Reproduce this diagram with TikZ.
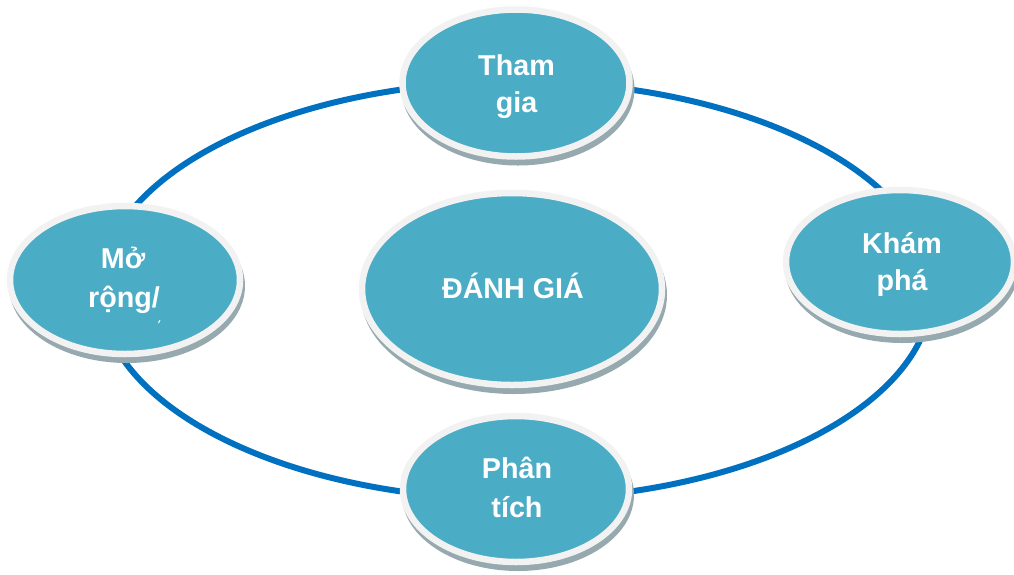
\documentclass[tikz,border=0pt]{standalone}
\usepackage{fontspec}
\setmainfont{Liberation Sans}
\usetikzlibrary{shapes.geometric}
\definecolor{ringc}{HTML}{0070C0}
\definecolor{nodefill}{HTML}{4BACC6}
\definecolor{rimc}{HTML}{F2F2F2}
\definecolor{shadc}{HTML}{95A9AF}
\begin{document}
\begin{tikzpicture}[x=1pt,y=-1pt,
  ringline/.style={draw=ringc, line width=6pt},
  bubble/.style={ellipse, fill=nodefill, draw=rimc, line width=6.5pt, inner sep=0pt},
  shadowfill/.style={fill=shadc},
  txt/.style={text=white, font=\fontsize{28.7}{34}\selectfont\bfseries, inner sep=0pt, anchor=base},
  ]
\useasboundingbox (0,0) rectangle (1014,574);
\clip (0,0) rectangle (1014,574);

% ring
\draw[ringline] (516,290.5) ellipse [x radius=416, y radius=209];

% shadows
\fill[shadowfill] (518,89) ellipse [x radius=116.5, y radius=76.5];
\fill[shadowfill] (127,286) ellipse [x radius=118, y radius=77];
\fill[shadowfill] (902,268) ellipse [x radius=117, y radius=75];
\fill[shadowfill] (518,495) ellipse [x radius=116, y radius=76];
\fill[shadowfill] (514,295) ellipse [x radius=153, y radius=99];

% nodes
\node[bubble, minimum width=227pt, minimum height=147pt] (thamgia) at (516,83) {};
\node[bubble, minimum width=230pt, minimum height=148pt] (morong) at (125,280) {};
\node[bubble, minimum width=228pt, minimum height=144pt] (khampha) at (900,262) {};
\node[bubble, minimum width=226pt, minimum height=146pt] (phantich) at (516,489) {};
\node[bubble, minimum width=300pt, minimum height=192pt] (danhgia) at (512,289) {};

% texts
\node[txt] (t1a) at (516.5,75) {Tham};
\node[txt] (t1b) at (516.5,112) {gia};
\node[txt] (t2a) at (123,268) {Mở};
\node[txt] (t2b) at (124,307) {rộng/};
\draw[white, line width=1pt] (158.5,323) -- (160,320);
\node[txt] (t3a) at (902,253) {Khám};
\node[txt] (t3b) at (902,290) {phá};
\node[txt] (t4a) at (517,478) {Phân};
\node[txt] (t4b) at (517,517) {tích};
\node[txt] (t5) at (513,298) {ĐÁNH GIÁ};
\end{tikzpicture}
\end{document}
